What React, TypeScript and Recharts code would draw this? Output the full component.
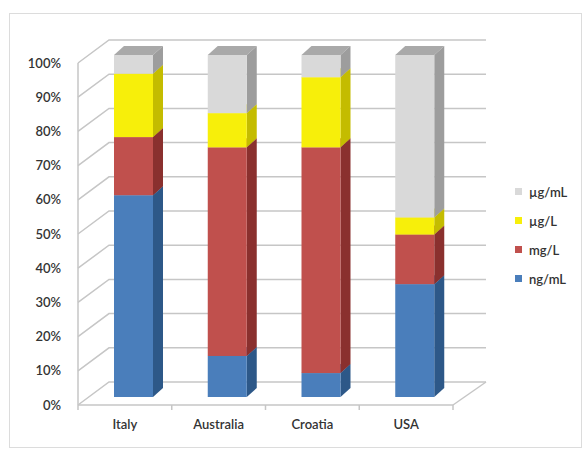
import React from "react"
import { BarChart, Bar, XAxis, YAxis, CartesianGrid, Legend } from "recharts"

// share of each unit per country, bottom of the stack first
const countries = ["Italy", "Australia", "Croatia", "USA"]
const ngPerMl = [59, 12, 7, 33]
const mgPerL = [17, 61, 66, 14.5]
const ugPerL = [18.5, 10, 20.5, 5]
const ugPerMl = [5.5, 17, 6.5, 47.5]
const yTicks = [0, 10, 20, 30, 40, 50, 60, 70, 80, 90, 100]

const series = [
    { key: "ngPerMl", name: "ng/mL", values: ngPerMl, front: "#4a7ebb", side: "#2d5888", top: "#3a6aa5" },
    { key: "mgPerL", name: "mg/L", values: mgPerL, front: "#c0504d", side: "#8a302e", top: "#a33f3c" },
    { key: "ugPerL", name: "µg/L", values: ugPerL, front: "#f7ef0a", side: "#c4bc00", top: "#d8d100" },
    { key: "ugPerMl", name: "µg/mL", values: ugPerMl, front: "#d9d9d9", side: "#9d9d9d", top: "#a9a9a9" },
]

const data = countries.map((country, i) => {
    const row: Record<string, string | number> = { country }
    series.forEach((s) => { row[s.key] = s.values[i] })
    return row
})

const FONT = "Lato, 'Open Sans', sans-serif"
const TEXT = "#333333"
const GRID = "#c6c6c6"

// 3d look: walls recede by WALL, bars sit BAR_OFF back and are BAR_DEPTH deep
const WALL = { dx: 31, dy: 23 }
const BAR_OFF = { dx: 9, dy: 8 }
const BAR_DEPTH = { dx: 10, dy: 9 }
const PLOT_LEFT = 78
const PLOT_RIGHT = 453
const HALF_BAND = (PLOT_RIGHT - PLOT_LEFT) / countries.length / 2

function Prism(props: any) {
    const { x, y, width, height, front, side, top } = props
    if (width == null || height == null) return null
    const fx = x + BAR_OFF.dx
    const fy = y - BAR_OFF.dy
    const { dx, dy } = BAR_DEPTH
    const r = fx + width
    return (
        <g>
            <polygon points={`${fx},${fy} ${fx + dx},${fy - dy} ${r + dx},${fy - dy} ${r},${fy}`} fill={top} />
            <polygon points={`${r},${fy} ${r + dx},${fy - dy} ${r + dx},${fy + height - dy} ${r},${fy + height}`} fill={side} />
            <rect x={fx} y={fy} width={width} height={height} fill={front} />
        </g>
    )
}

// gridline runs along the left wall, then across the back wall
function WallLine(props: any) {
    const { x1, y1, x2 } = props
    const isFloor = Math.abs(y1 - 405) < 1
    return (
        <g key={props.key}>
            <polyline
                points={`${x1},${y1} ${x1 + WALL.dx},${y1 - WALL.dy} ${x2 + WALL.dx + 2},${y1 - WALL.dy}`}
                fill="none"
                stroke={GRID}
                strokeWidth={1.5}
            />
            {isFloor && (
                <line x1={x2} y1={y1} x2={x2 + WALL.dx + 2} y2={y1 - WALL.dy} stroke={GRID} strokeWidth={1.5} />
            )}
        </g>
    )
}

function CountryTick(props: any) {
    const { x, y, payload, index } = props
    return (
        <g>
            <line x1={x - HALF_BAND} y1={405} x2={x - HALF_BAND} y2={410} stroke={GRID} strokeWidth={1.5} />
            {index === countries.length - 1 && (
                <line x1={x + HALF_BAND} y1={405} x2={x + HALF_BAND} y2={410} stroke={GRID} strokeWidth={1.5} />
            )}
            <text x={x} y={y} dy="0.71em" textAnchor="middle" fill={TEXT} fontSize={13} fontWeight={600} fontFamily={FONT}>
                {payload.value}
            </text>
        </g>
    )
}

function UnitLegend() {
    return (
        <div style={{ fontFamily: FONT, fontSize: 13, fontWeight: 600, color: TEXT }}>
            {[...series].reverse().map((s) => (
                <div key={s.key} style={{ display: "flex", alignItems: "center", height: 29 }}>
                    <span style={{ width: 7, height: 7, background: s.front, marginRight: 7 }} />
                    <span>{s.name}</span>
                </div>
            ))}
        </div>
    )
}

export default function App() {
    return (
        <div style={{ position: "absolute", left: 0, top: 0, width: 584, height: 449, background: "#fff" }}>
            <div
                style={{
                    position: "absolute",
                    left: 9,
                    top: 13,
                    width: 571,
                    height: 433,
                    border: "1.5px solid #dcdcdc",
                }}
            />
            <BarChart
                width={584}
                height={449}
                data={data}
                margin={{ top: 63, right: 131, bottom: 22, left: 8 }}
                barSize={39}
            >
                <CartesianGrid vertical={false} horizontal={WallLine} />
                <XAxis
                    dataKey="country"
                    height={22}
                    axisLine={{ stroke: GRID, strokeWidth: 1.5 }}
                    tickLine={false}
                    tickSize={6}
                    tickMargin={9}
                    tick={CountryTick}
                    interval={0}
                />
                <YAxis
                    width={70}
                    domain={[0, 100]}
                    ticks={yTicks}
                    interval={0}
                    tickFormatter={(v: number) => `${v}%`}
                    axisLine={{ stroke: GRID, strokeWidth: 1.5 }}
                    tickLine={false}
                    tickSize={8}
                    tickMargin={9}
                    tick={{ fill: TEXT, fontSize: 13, fontWeight: 600, fontFamily: FONT }}
                />
                {series.map((s) => (
                    <Bar
                        key={s.key}
                        dataKey={s.key}
                        name={s.name}
                        stackId="units"
                        fill={s.front}
                        isAnimationActive={false}
                        shape={(p: any) => <Prism {...p} front={s.front} side={s.side} top={s.top} />}
                    />
                ))}
                <Legend
                    layout="vertical"
                    align="center"
                    verticalAlign="middle"
                    wrapperStyle={{ position: "absolute", left: 515, top: 177, width: 70, height: 116 }}
                    content={() => <UnitLegend />}
                />
            </BarChart>
        </div>
    )
}
